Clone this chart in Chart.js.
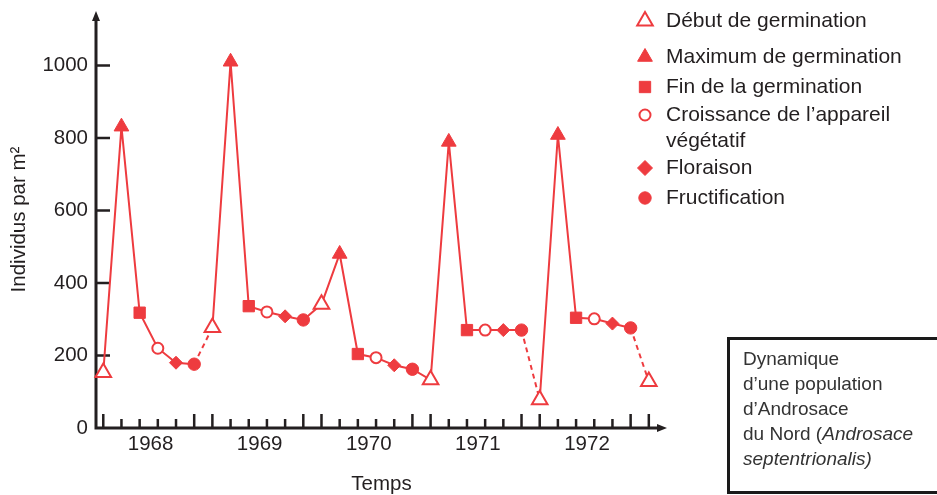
<!DOCTYPE html>
<html lang="fr">
<head>
<meta charset="UTF-8">
<title>Dynamique d'une population d'Androsace du Nord</title>
<style>
  html, body { margin: 0; padding: 0; background: #fff; overflow: hidden; }
  .wrap { position: relative; width: 937px; height: 495px; }
  .chart-box { position: absolute; left: 0; top: 0; width: 937px; height: 495px; }
  .note {
    position: absolute; left: 727px; top: 337px; width: 240px; height: 157px;
    box-sizing: border-box; border: 3px solid #1a1a1a;
    padding: 6px 0 0 13px;
    font-family: 'Liberation Sans', Arial, sans-serif; font-size: 19px; line-height: 25px; color: #333;
  }
</style>
</head>
<body>
<div class="wrap">
  <div class="chart-box"><canvas id="graph"></canvas></div>
  <div class="note">Dynamique<br>d’une population<br>d’Androsace<br>du Nord (<i>Androsace<br>septentrionalis)</i></div>
</div>

<script src="https://cdn.jsdelivr.net/npm/chart.js"></script>
<script>
// relevés tous les deux mois (mois depuis le premier relevé)
const months = [0, 2, 4, 6, 8, 10, 12, 14, 16, 18, 20, 22, 24, 26, 28, 30,
                32, 34, 36, 38, 40, 42, 44, 46, 48, 50, 52, 54, 56, 58, 60];
const individus = [153, 831, 318, 220, 180, 176, 277, 1010, 336, 320, 308, 298, 341, 480, 204, 194,
                   173, 162, 133, 789, 270, 270, 270, 270, 78, 808, 304, 301, 288, 276, 128];
const stades = ['debut', 'max', 'fin', 'croissance', 'floraison', 'fructification',
                'debut', 'max', 'fin', 'croissance', 'floraison', 'fructification',
                'debut', 'max', 'fin', 'croissance', 'floraison', 'fructification',
                'debut', 'max', 'fin', 'croissance', 'floraison', 'fructification',
                'debut', 'max', 'fin', 'croissance', 'floraison', 'fructification',
                'debut'];
const dashedFrom = [5, 23, 29];   // segments en pointillés (index du point de départ)
const yearLabels = ['1968', '1969', '1970', '1971', '1972'];
const yTicks = [0, 200, 400, 600, 800, 1000];

const RED = '#ee3b3f';
const INK = '#231f20';
const YEAR_LABEL_MONTH = 5.2;

const stageStyles = [
  { key: 'debut', label: 'Début de germination', pointStyle: 'triangle', radius: 9, filled: false },
  { key: 'max', label: 'Maximum de germination', pointStyle: 'triangle', radius: 8.5, filled: true },
  { key: 'fin', label: 'Fin de la germination', pointStyle: 'rect', radius: 8, filled: true },
  { key: 'croissance', label: 'Croissance de l’appareil\nvégétatif', pointStyle: 'circle', radius: 5.5, filled: false },
  { key: 'floraison', label: 'Floraison', pointStyle: 'rectRot', radius: 6.5, filled: true, legendRadius: 7.5 },
  { key: 'fructification', label: 'Fructification', pointStyle: 'circle', radius: 6.2, filled: true }
];

Chart.defaults.font.family = "'Liberation Sans', Arial, sans-serif";
Chart.defaults.font.size = 20.5;
Chart.defaults.color = INK;

const points = months.map((m, i) => ({ x: m, y: individus[i] }));

const datasets = [{
  label: 'courbe',
  data: points,
  borderColor: RED,
  borderWidth: 2,
  pointRadius: 0,
  tension: 0,
  fill: false,
  order: 1,
  clip: false,
  segment: {
    borderDash: ctx => dashedFrom.includes(ctx.p0DataIndex) ? [5, 4] : undefined
  }
}];

stageStyles.forEach(s => {
  datasets.push({
    label: s.label,
    stage: s.key,
    data: points.filter((p, i) => stades[i] === s.key),
    showLine: false,
    pointStyle: s.pointStyle,
    pointRadius: s.radius,
    legendRadius: s.legendRadius,
    backgroundColor: s.filled ? RED : '#fff',
    borderColor: RED,
    borderWidth: s.filled ? 1 : 2,
    pointBorderWidth: s.filled ? 1 : 2,
    order: 0,
    clip: false
  });
});

// axes en flèches, graduations vers l'intérieur
const axesPlugin = {
  id: 'axes',
  beforeDatasetsDraw(chart) {
    const { ctx, chartArea: a, scales: { x, y } } = chart;
    const x0 = a.left, y0 = a.bottom;
    ctx.save();
    ctx.strokeStyle = INK;
    ctx.fillStyle = INK;
    ctx.lineWidth = 3;
    ctx.beginPath();
    ctx.moveTo(x0, y0 + 1.5); ctx.lineTo(x0, a.top + 8);
    ctx.moveTo(x0 - 1.5, y0); ctx.lineTo(a.right - 8, y0);
    ctx.stroke();
    ctx.beginPath();
    ctx.moveTo(x0, a.top); ctx.lineTo(x0 - 4, a.top + 10); ctx.lineTo(x0 + 4, a.top + 10); ctx.closePath();
    ctx.moveTo(a.right, y0); ctx.lineTo(a.right - 10, y0 - 4); ctx.lineTo(a.right - 10, y0 + 4); ctx.closePath();
    ctx.fill();

    ctx.lineWidth = 2.5;
    ctx.beginPath();
    months.forEach((m, i) => {
      const px = x.getPixelForValue(m);
      const tall = stades[i] === 'debut' || stades[i] === 'fructification';
      ctx.moveTo(px, y0); ctx.lineTo(px, y0 - (tall ? 14 : 9));
    });
    yTicks.filter(v => v > 0).forEach(v => {
      const py = y.getPixelForValue(v);
      ctx.moveTo(x0, py); ctx.lineTo(x0 + 14, py);
    });
    ctx.stroke();
    ctx.restore();
  }
};

// légende des stades, à droite du graphique
const stageLegend = {
  id: 'stageLegend',
  afterDraw(chart, args, opts) {
    const ctx = chart.ctx;
    ctx.save();
    ctx.font = "21px 'Liberation Sans', Arial, sans-serif";
    ctx.textBaseline = 'middle';
    let row = 0;
    chart.data.datasets.forEach(ds => {
      if (!ds.stage) return;
      const yPos = opts.rows[row++];
      ctx.fillStyle = ds.backgroundColor;
      ctx.strokeStyle = ds.borderColor;
      ctx.lineWidth = ds.borderWidth;
      Chart.helpers.drawPoint(ctx, {
        pointStyle: ds.pointStyle,
        radius: ds.legendRadius || ds.pointRadius,
        borderWidth: ds.borderWidth
      }, opts.markerX, yPos);
      ctx.fillStyle = INK;
      ds.label.split('\n').forEach((line, k) => {
        ctx.fillText(line, opts.textX, yPos + k * opts.lineHeight);
      });
    });
    ctx.restore();
  }
};

new Chart(document.getElementById('graph'), {
  type: 'line',
  data: { datasets: datasets },
  plugins: [axesPlugin, stageLegend],
  options: {
    responsive: true,
    maintainAspectRatio: false,
    animation: false,
    events: [],
    layout: { padding: { top: 8, right: 270, left: 0, bottom: 0 } },
    plugins: {
      legend: { display: false },
      tooltip: { enabled: false },
      stageLegend: { markerX: 645, textX: 666, lineHeight: 26.5, rows: [21, 57, 87, 115, 168, 198] }
    },
    scales: {
      x: {
        type: 'linear',
        min: -0.8,
        max: 62,
        grid: { display: false, drawTicks: false },
        border: { display: false },
        afterBuildTicks: s => { s.ticks = yearLabels.map((_, i) => ({ value: YEAR_LABEL_MONTH + 12 * i })); },
        ticks: { autoSkip: false, maxRotation: 0, padding: 4, callback: (v, i) => yearLabels[i] },
        afterFit: s => { s.height = 67; s.paddingLeft = 0; s.paddingRight = 0; },
        title: { display: true, text: 'Temps', font: { lineHeight: 1 }, padding: { top: 0, bottom: 0 } }
      },
      y: {
        min: 0,
        max: 1150,
        grid: { display: false, drawTicks: false },
        border: { display: false },
        afterBuildTicks: s => { s.ticks = yTicks.map(v => ({ value: v })); },
        ticks: { padding: 8, callback: v => String(v) },
        afterFit: s => { s.width = 96; s.paddingTop = 0; s.paddingBottom = 0; },
        title: { display: true, text: 'Individus par m²', padding: { top: 7, bottom: 0 } }
      }
    }
  }
});
</script>
</body>
</html>
